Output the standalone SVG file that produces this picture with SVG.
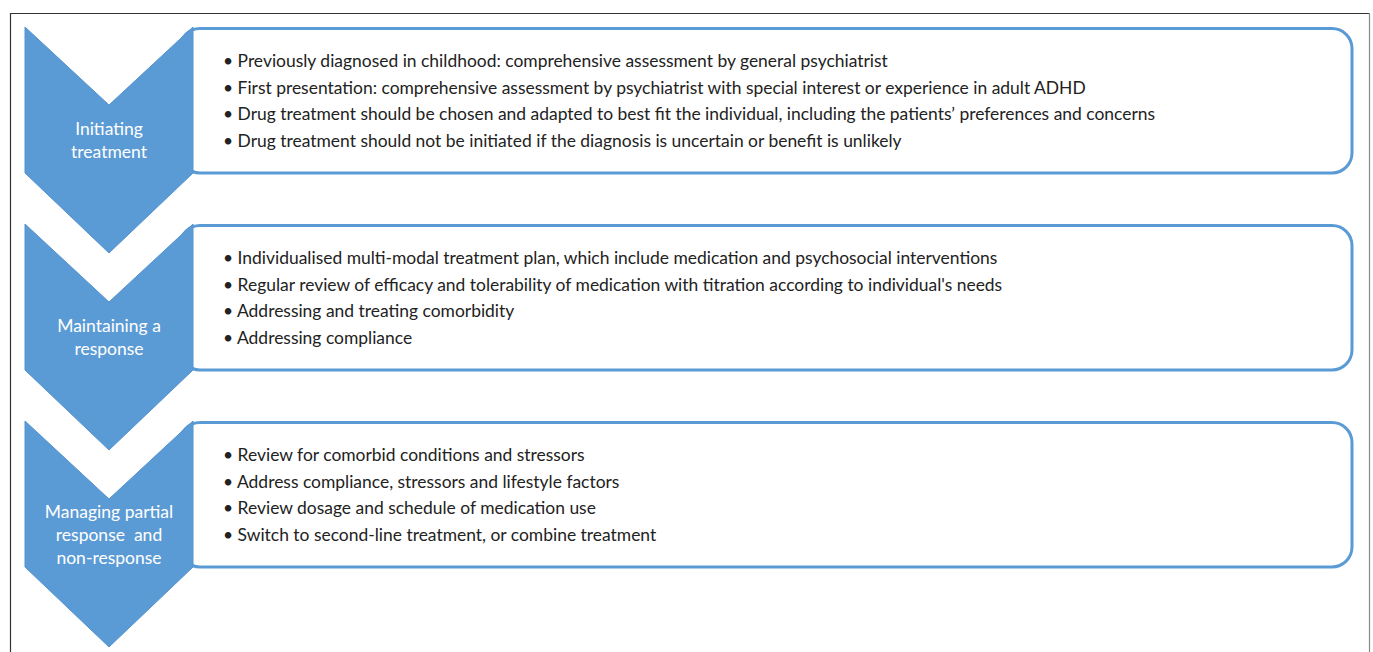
<svg xmlns="http://www.w3.org/2000/svg" width="1373" height="652" viewBox="0 0 1373 652">
<style>
.chev{fill:#5B9BD5;stroke:#5593CF;stroke-width:1}
.box{fill:#fff;stroke:#5B9BD5;stroke-width:3}
.lbl{font-family:Lato,"Open Sans",sans-serif;font-size:17.5px;fill:#fff;text-anchor:middle}
.itm{font-family:Lato,"Open Sans",sans-serif;font-size:17.45px;fill:#222}
</style>
<rect x="0" y="0" width="1373" height="652" fill="#fff"/>
<path d="M10.5 660 V13.5 H1369.5" fill="none" stroke="#333" stroke-width="1.2"/>
<path d="M1369.5 13.5 V660" fill="none" stroke="#888" stroke-width="1.2"/>
<g id="connectors"></g>
<g id="stage1">
<rect class="box" x="180" y="28.5" width="1172" height="144.5" rx="20"/>
<path class="chev" d="M25 27 L109 105 L193 27 L193 173 L109 253 L25 173 Z"/>
<text class="lbl" x="109" y="135">Initiating</text>
<text class="lbl" x="109" y="158">treatment</text>
<text class="itm" x="223" y="67">• Previously diagnosed in childhood: comprehensive assessment by general psychiatrist</text>
<text class="itm" x="223" y="93.7">• First presentation: comprehensive assessment by psychiatrist with special interest or experience in adult ADHD</text>
<text class="itm" x="223" y="120.4">• Drug treatment should be chosen and adapted to best fit the individual, including the patients’ preferences and concerns</text>
<text class="itm" x="223" y="147">• Drug treatment should not be initiated if the diagnosis is uncertain or benefit is unlikely</text>
</g>
<g id="stage2">
<rect class="box" x="180" y="225.5" width="1172" height="144.5" rx="20"/>
<path class="chev" d="M25 224 L109 302 L193 224 L193 370 L109 450 L25 370 Z"/>
<text class="lbl" x="109" y="332">Maintaining a</text>
<text class="lbl" x="109" y="355">response</text>
<text class="itm" x="223" y="264">• Individualised multi-modal treatment plan, which include medication and psychosocial interventions</text>
<text class="itm" x="223" y="290.7">• Regular review of efficacy and tolerability of medication with titration according to individual's needs</text>
<text class="itm" x="223" y="317.4">• Addressing and treating comorbidity</text>
<text class="itm" x="223" y="344">• Addressing compliance</text>
</g>
<g id="stage3">
<rect class="box" x="180" y="422.5" width="1172" height="144.5" rx="20"/>
<path class="chev" d="M25 421 L109 499 L193 421 L193 567 L109 647 L25 567 Z"/>
<text class="lbl" x="109" y="518">Managing partial</text>
<text class="lbl" x="109" y="541" xml:space="preserve">response  and</text>
<text class="lbl" x="109" y="564">non-response</text>
<text class="itm" x="223" y="461">• Review for comorbid conditions and stressors</text>
<text class="itm" x="223" y="487.7">• Address compliance, stressors and lifestyle factors</text>
<text class="itm" x="223" y="514.4">• Review dosage and schedule of medication use</text>
<text class="itm" x="223" y="541">• Switch to second-line treatment, or combine treatment</text>
</g>
</svg>
